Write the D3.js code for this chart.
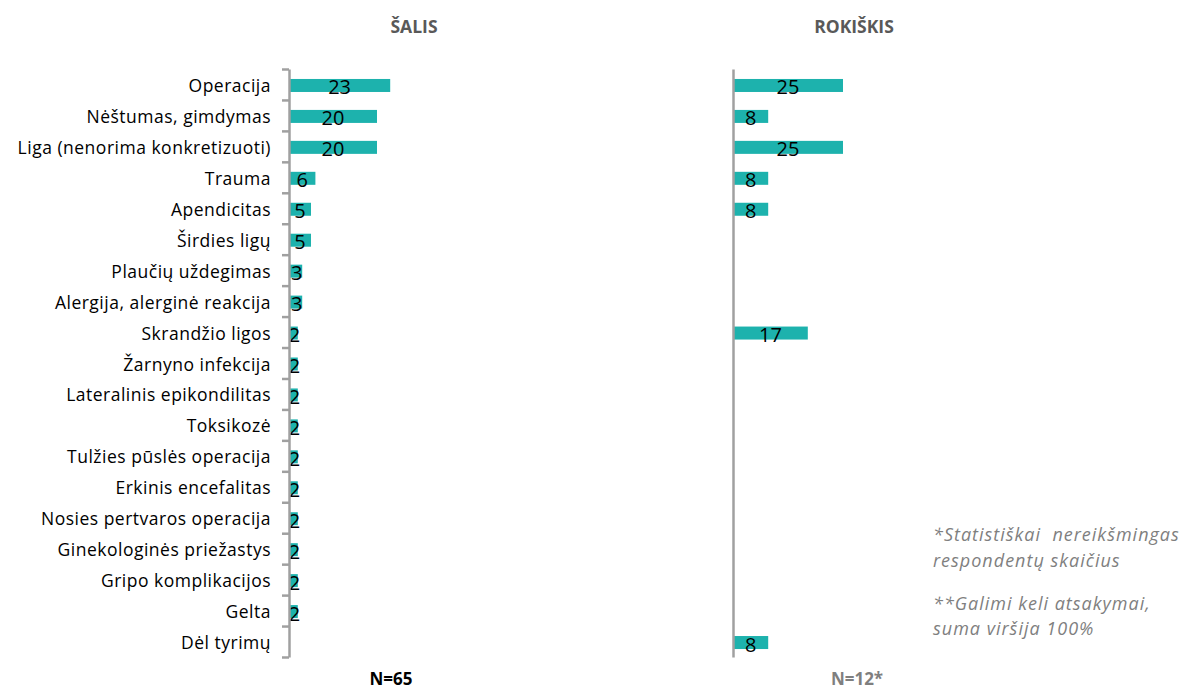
<!DOCTYPE html>
<html><head><meta charset="utf-8">
<script src="https://cdn.jsdelivr.net/npm/d3@7"></script>
<style>body{margin:0;background:#fff}svg{display:block}</style>
</head><body>
<svg id="c" width="1202" height="689"></svg>
<script>
const categories = ["Operacija","Nėštumas, gimdymas","Liga (nenorima konkretizuoti)","Trauma","Apendicitas","Širdies ligų","Plaučių uždegimas","Alergija, alerginė reakcija","Skrandžio ligos","Žarnyno infekcija","Lateralinis epikondilitas","Toksikozė","Tulžies pūslės operacija","Erkinis encefalitas","Nosies pertvaros operacija","Ginekologinės priežastys","Gripo komplikacijos","Gelta","Dėl tyrimų"];
const salisValues = [23,20,20,6,5,5,3,3,2,2,2,2,2,2,2,2,2,2,null];
const rokiskisValues = [25,8,25,8,8,null,null,null,17,null,null,null,null,null,null,null,null,null,8];
const panelTitles = ["ŠALIS","ROKIŠKIS"];
const sampleSizes = ["N=65","N=12*"];
const footnotes = ["*Statistiškai  nereikšmingas","respondentų skaičius","**Galimi keli atsakymai,","suma viršija 100%"];

const svg = d3.select("#c");
const teal = "#1db2ad", axisGrey = "#a0a0a0";
const y = d3.scaleBand().domain(categories).range([69,657]).paddingInner(0);
const yb = d3.scaleLinear().domain([0,categories.length]).range([69,657]);
const barH = 13;

const panels = [
  {x0:289, vals:salisValues, titleX:414, nX:391, nColor:"#000", titleColor:"#595959", ticks:true},
  {x0:733, vals:rokiskisValues, titleX:854, nX:857, nColor:"#7f7f7f", titleColor:"#595959", ticks:false}
];

panels.forEach((p,i)=>{
  const x = d3.scaleLinear().domain([0,25]).range([p.x0, p.x0+110]);
  const g = svg.append("g");
  const data = categories.map((c,k)=>({c, v:p.vals[k]})).filter(d=>d.v!=null);
  g.selectAll("rect").data(data).join("rect")
    .attr("x", x(0)).attr("y", d=>y(d.c)+y.bandwidth()/2-barH/2+1)
    .attr("width", d=>x(d.v)-x(0)).attr("height", barH).attr("fill", teal);
  g.selectAll("text.v").data(data).join("text").attr("class","v")
    .attr("x", d=>(x(0)+x(d.v))/2 + (d.v<4?1:0)).attr("y", d=>y(d.c)+y.bandwidth()/2+10)
    .attr("text-anchor","middle").attr("font-family","Open Sans, sans-serif")
    .attr("font-size",20).attr("fill","#000").text(d=>d.v);
  const ax = d3.axisLeft(yb).tickValues(d3.range(0,categories.length+1))
    .tickFormat("").tickSize(p.ticks?7:0).tickSizeOuter(0);
  const ag = svg.append("g").attr("transform",`translate(${p.x0},0)`).call(ax);
  ag.select(".domain").attr("stroke",axisGrey).attr("stroke-width",2.5);
  ag.selectAll(".tick line").attr("stroke",axisGrey).attr("stroke-width",2.5);
  svg.append("text").attr("x",p.titleX).attr("y",33).attr("text-anchor","middle")
    .attr("font-family","Open Sans, sans-serif").attr("font-weight","bold").attr("font-size",17.5)
    .attr("fill",p.titleColor).text(panelTitles[i]);
  svg.append("text").attr("x",p.nX).attr("y",685).attr("text-anchor","middle")
    .attr("font-family","Open Sans, sans-serif").attr("font-weight","bold").attr("font-size",17)
    .attr("fill",p.nColor).text(sampleSizes[i]);
});

svg.append("g").selectAll("text").data(categories).join("text")
  .attr("x",271).attr("y",d=>y(d)+y.bandwidth()/2+7.5)
  .attr("text-anchor","end").attr("font-family","Open Sans, sans-serif")
  .attr("font-size",17.5).attr("letter-spacing",0.5).attr("fill","#000").text(d=>d);

const fy = [541,567,610,635];
svg.append("g").selectAll("text").data(footnotes).join("text")
  .attr("x",933).attr("y",(d,i)=>fy[i]).attr("font-family","Open Sans, sans-serif")
  .attr("font-style","italic").attr("font-size",18).attr("letter-spacing",1).attr("fill","#7f7f7f")
  .style("white-space","pre").text(d=>d);
</script>
</body></html>
